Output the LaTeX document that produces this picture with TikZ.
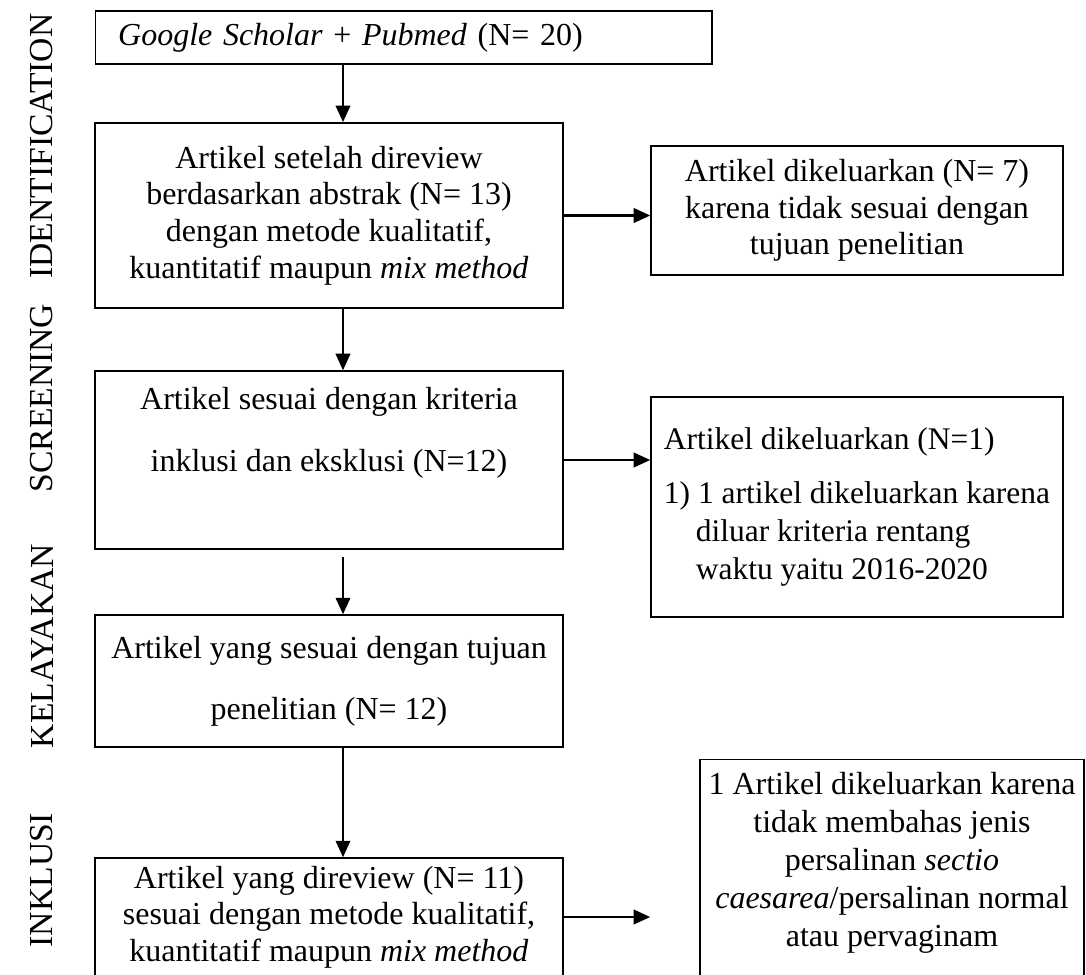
\documentclass[tikz,border=0pt]{standalone}
\usepackage{fontspec}
\setmainfont{Liberation Serif}
\usetikzlibrary{arrows.meta}

\begin{document}
\begin{tikzpicture}[x=0.375pt,y=-0.375pt]
    \tikzstyle{box}=[draw,line width=.55pt,rectangle,inner sep=0pt,align=center,font=\fontsize{12}{13.7}\selectfont]
    \tikzstyle{small}=[font=\fontsize{11.8}{14.2}\selectfont]
    \tikzstyle{edge}=[draw,line width=.95pt,-{Triangle[length=6.2pt,width=5.4pt]}]
    \tikzstyle{phase}=[rotate=90,inner sep=0pt,font=\fontsize{12.6}{13.7}\selectfont]
    \useasboundingbox (0,0) rectangle (1086,974);
    \clip (0,0) rectangle (1086,974);
    % phase labels
    \node[phase] (phid) at (42,146) {IDENTIFICATION};
    \node[phase] (phscr) at (42,398) {SCREENING};
    \node[phase] (phlay) at (42,646) {KELAYAKAN};
    \node[phase] (phinc) at (42,880) {INKLUSI};
    % main column
    \node[box,align=left,text width=214pt,inner xsep=8.6pt,minimum height=19.9pt] (src) at (403.5,37.5) {\textit{Google Scholar} + \textit{Pubmed} (N= 20)};
    \node[box,minimum width=175.5pt,minimum height=69.5pt] (rev) at (329,215.5) {Artikel setelah direview\\ berdasarkan abstrak (N= 13)\\ dengan metode kualitatif,\\ kuantitatif maupun \textit{mix method}};
    \node[box,minimum width=175.5pt,minimum height=66.75pt] (scr) at (329,460) {Artikel sesuai dengan kriteria\\[9.55pt] inklusi dan eksklusi (N=12)\\[9.55pt] \mbox{}};
    \node[box,minimum width=175.5pt,minimum height=49.5pt] (lay) at (329,681) {Artikel yang sesuai dengan tujuan\\[9.2pt] penelitian (N= 12)};
    \node[box,minimum width=175.5pt,minimum height=44.25pt] (inc) at (329,917) {Artikel yang direview (N= 11)\\ sesuai dengan metode kualitatif,\\ kuantitatif maupun \textit{mix method}};
    % excluded
    \node[box,minimum width=154.5pt,minimum height=48.4pt] (outa) at (857,210.5) {Artikel dikeluarkan (N= 7)\\ karena tidak sesuai dengan\\ tujuan penelitian};
    \node[box,small,align=left,minimum width=154.5pt,minimum height=82.5pt] (outb) at (857,507) {Artikel dikeluarkan (N=1)\\[6.2pt] 1)~1 artikel dikeluarkan karena\\ \hspace*{12pt}diluar kriteria rentang\\ \hspace*{12pt}waktu yaitu 2016-2020};
    \node[box,anchor=north,minimum width=144pt,inner ysep=4.8pt,font=\fontsize{12}{14.25}\selectfont] (outc) at (892,759) {1 Artikel dikeluarkan karena\\ tidak membahas jenis\\ persalinan \textit{sectio}\\ \textit{caesarea}/persalinan normal\\ atau pervaginam\\[15pt] \mbox{}};
    % arrows
    \coordinate (spine) at ([xshift=5.25pt]rev.north);
    \draw[edge] (spine |- src.south) -- (spine |- rev.north);
    \draw[edge] (spine |- rev.south) -- (spine |- scr.north);
    \draw[edge,shorten <=2.6pt] (spine |- scr.south) -- (spine |- lay.north);
    \draw[edge] (spine |- lay.south) -- (spine |- inc.north);
    \draw[edge] (rev.east) -- (rev.east -| outa.west);
    \draw[edge] (scr.east) -- (scr.east -| outb.west);
    \draw[edge,shorten >=18.4pt] (inc.east) -- (inc.east -| outc.west);
\end{tikzpicture}
\end{document}
